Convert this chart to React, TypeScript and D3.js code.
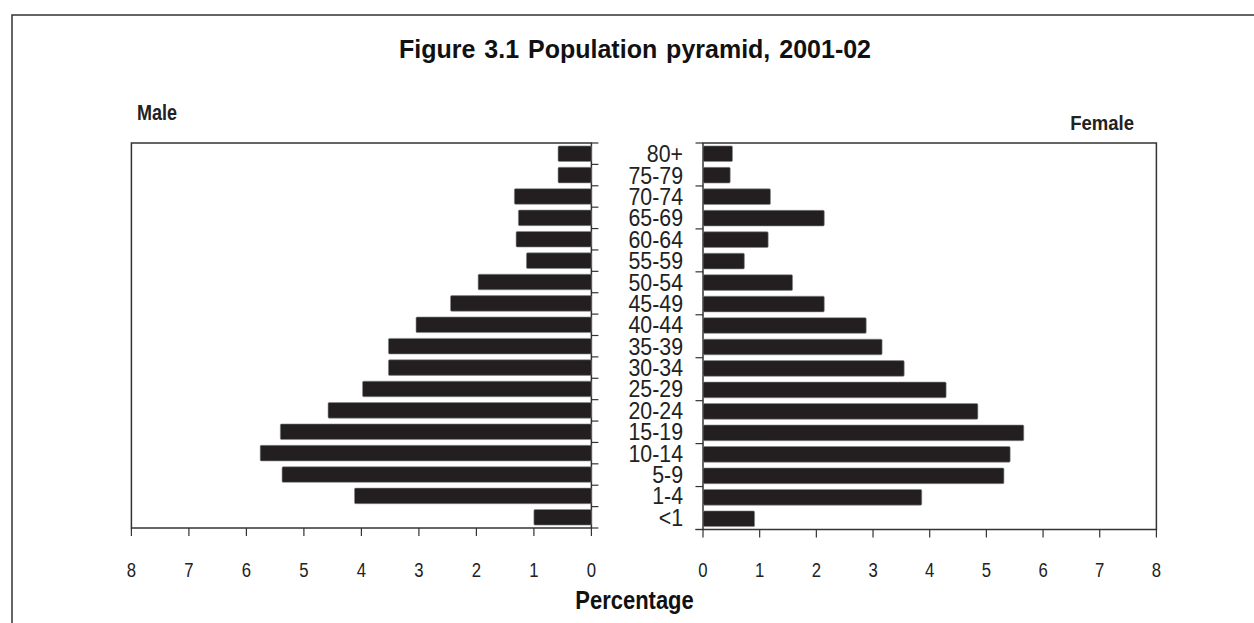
import React, { useEffect, useRef } from 'react';
import * as d3 from 'd3';

// age groups, bottom to top
const ageGroups = [
  '<1', '1-4', '5-9', '10-14', '15-19', '20-24', '25-29', '30-34', '35-39',
  '40-44', '45-49', '50-54', '55-59', '60-64', '65-69', '70-74', '75-79', '80+',
];

// percentage of population (male / female)
const maleValues = [
  1.0, 4.12, 5.38, 5.76, 5.41, 4.58, 3.98, 3.53, 3.53,
  3.05, 2.45, 1.97, 1.13, 1.31, 1.27, 1.34, 0.58, 0.58,
];
const femaleValues = [
  0.91, 3.86, 5.31, 5.42, 5.66, 4.85, 4.29, 3.55, 3.16,
  2.88, 2.14, 1.58, 0.73, 1.15, 2.14, 1.19, 0.48, 0.52,
];

const xTicks = [0, 1, 2, 3, 4, 5, 6, 7, 8];

const FONT = '"Liberation Sans", Arial, sans-serif';
const INK = '#231f20';
const LINE = '#333';

const App: React.FC = () => {
  const svgRef = useRef<SVGSVGElement>(null);

  useEffect(() => {
    if (!svgRef.current) return;
    const svg = d3.select(svgRef.current);
    svg.selectAll('*').remove();

    const top = 143;
    const leftBox = { x0: 131.4, x1: 591.4, bottom: 528 };
    const rightBox = { x0: 703, x1: 1156.4, bottom: 529.5 };

    const order = [...ageGroups].reverse();

    const yLeft = d3.scaleBand<string>().domain(order).range([top, leftBox.bottom]).paddingInner(0.27).paddingOuter(0.135);
    const yRight = d3.scaleBand<string>().domain(order).range([top, rightBox.bottom]).paddingInner(0.27).paddingOuter(0.135);

    const xLeft = d3.scaleLinear().domain([0, 8]).range([leftBox.x1, leftBox.x0]);
    const xRight = d3.scaleLinear().domain([0, 8]).range([rightBox.x0, rightBox.x1]);

    // the original type is tall and narrow, so text is stretched a little
    const label = (x: number, y: number, sx: number, sy: number) =>
      `translate(${x},${y}) scale(${sx},${sy})`;

    // outer frame
    svg.append('path')
      .attr('d', 'M12,640 L12,15 L1260,15')
      .attr('fill', 'none')
      .attr('stroke', LINE)
      .attr('stroke-width', 1.5);

    // title
    svg.append('text')
      .attr('x', 635)
      .attr('y', 58)
      .attr('text-anchor', 'middle')
      .style('font-family', FONT)
      .style('font-size', '25px')
      .style('font-weight', 'bold')
      .style('word-spacing', '2px')
      .style('fill', '#111')
      .text('Figure 3.1 Population pyramid, 2001-02');

    svg.append('text')
      .attr('transform', label(137, 120, 1, 1.18))
      .style('font-family', FONT).style('font-size', '18px').style('font-weight', 'bold')
      .style('fill', '#222')
      .text('Male');

    svg.append('text')
      .attr('transform', label(1134, 130, 1.03, 1.15))
      .attr('text-anchor', 'end')
      .style('font-family', FONT).style('font-size', '18px').style('font-weight', 'bold')
      .style('fill', '#222')
      .text('Female');

    // left panel frame
    svg.append('rect')
      .attr('x', leftBox.x0).attr('y', top)
      .attr('width', leftBox.x1 - leftBox.x0).attr('height', leftBox.bottom - top)
      .attr('fill', 'none').attr('stroke', LINE).attr('stroke-width', 1.5);

    // right panel frame
    svg.append('rect')
      .attr('x', rightBox.x0).attr('y', top)
      .attr('width', rightBox.x1 - rightBox.x0).attr('height', rightBox.bottom - top)
      .attr('fill', 'none').attr('stroke', LINE).attr('stroke-width', 1.5);

    // male bars
    svg.append('g').selectAll('rect')
      .data(ageGroups)
      .enter()
      .append('rect')
      .attr('x', (d, i) => xLeft(maleValues[i]))
      .attr('y', d => yLeft(d)!)
      .attr('width', (d, i) => xLeft(0) - xLeft(maleValues[i]))
      .attr('height', yLeft.bandwidth())
      .attr('rx', 1.2)
      .attr('fill', INK)
      .attr('stroke', '#8a8a8a')
      .attr('stroke-width', 0.6);

    // female bars
    svg.append('g').selectAll('rect')
      .data(ageGroups)
      .enter()
      .append('rect')
      .attr('x', xRight(0))
      .attr('y', d => yRight(d)!)
      .attr('width', (d, i) => xRight(femaleValues[i]) - xRight(0))
      .attr('height', yRight.bandwidth())
      .attr('rx', 1.2)
      .attr('fill', INK)
      .attr('stroke', '#8a8a8a')
      .attr('stroke-width', 0.6);

    // category ticks: left panel on every band boundary, right panel every second one
    const step = yLeft.step();
    const leftTicks = d3.range(order.length + 1).map(i => top + i * step);
    svg.append('g').selectAll('line')
      .data(leftTicks)
      .enter()
      .append('line')
      .attr('x1', leftBox.x1).attr('x2', leftBox.x1 + 7)
      .attr('y1', d => d).attr('y2', d => d)
      .attr('stroke', LINE).attr('stroke-width', 1.2);

    const stepR = yRight.step();
    const rightTicks = d3.range(0, order.length + 1, 2).map(i => top + i * stepR);
    svg.append('g').selectAll('line')
      .data(rightTicks)
      .enter()
      .append('line')
      .attr('x1', rightBox.x0 - 7.5).attr('x2', rightBox.x0)
      .attr('y1', d => d).attr('y2', d => d)
      .attr('stroke', LINE).attr('stroke-width', 1.2);

    // age labels in the middle
    svg.append('g').selectAll('text')
      .data(ageGroups)
      .enter()
      .append('text')
      .attr('transform', d => label(683, yLeft(d)! + yLeft.bandwidth() / 2 + 8.5, 0.97, 1.08))
      .attr('text-anchor', 'end')
      .style('font-family', FONT)
      .style('font-size', '22px')
      .style('fill', '#222')
      .text(d => d);

    // value axes
    const leftAxis = svg.append('g');
    leftAxis.selectAll('line')
      .data(xTicks).enter().append('line')
      .attr('x1', d => xLeft(d)).attr('x2', d => xLeft(d))
      .attr('y1', leftBox.bottom).attr('y2', leftBox.bottom + 8)
      .attr('stroke', LINE).attr('stroke-width', 1.2);
    leftAxis.selectAll('text')
      .data(xTicks).enter().append('text')
      .attr('transform', d => label(xLeft(d), 577, 0.88, 1.05))
      .attr('text-anchor', 'middle')
      .style('font-family', FONT).style('font-size', '19px').style('fill', '#222')
      .text(d => d);

    const rightAxis = svg.append('g');
    rightAxis.append('line')
      .attr('x1', rightBox.x0 - 7.5).attr('x2', rightBox.x0)
      .attr('y1', rightBox.bottom).attr('y2', rightBox.bottom)
      .attr('stroke', LINE).attr('stroke-width', 1.2);
    rightAxis.selectAll('line.tick')
      .data(xTicks).enter().append('line')
      .attr('class', 'tick')
      .attr('x1', d => xRight(d)).attr('x2', d => xRight(d))
      .attr('y1', rightBox.bottom).attr('y2', rightBox.bottom + 8)
      .attr('stroke', LINE).attr('stroke-width', 1.2);
    rightAxis.selectAll('text')
      .data(xTicks).enter().append('text')
      .attr('transform', d => label(xRight(d), 577, 0.88, 1.05))
      .attr('text-anchor', 'middle')
      .style('font-family', FONT).style('font-size', '19px').style('fill', '#222')
      .text(d => d);

    svg.append('text')
      .attr('transform', label(634.5, 609, 1, 1.15))
      .attr('text-anchor', 'middle')
      .style('font-family', FONT).style('font-size', '22px').style('font-weight', 'bold')
      .style('fill', '#111')
      .text('Percentage');
  }, []);

  return (
    <svg
      ref={svgRef}
      width={1254}
      height={623}
      style={{ position: 'absolute', left: 0, top: 0, background: '#fff' }}
    />
  );
};

export default App;
